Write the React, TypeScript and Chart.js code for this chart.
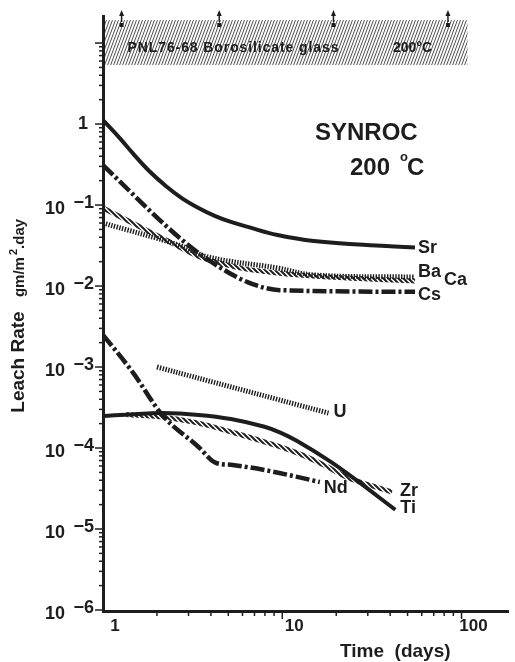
import React, { useEffect, useRef } from 'react';
import { Chart, registerables } from 'chart.js';

Chart.register(...registerables);

const FONT = '"Liberation Sans", Arial, Helvetica, sans-serif';
const INK = '#1d1d1d';

// ---- data (days, gm/m^2.day) ----
const srX = [1, 1.24, 1.46, 1.81, 2.25, 2.75, 3.41, 4.23, 5.17, 6.42, 9.4, 15, 38, 55];
const srY = [1.12, 0.67, 0.44, 0.263, 0.171, 0.122, 0.092, 0.073, 0.0618, 0.0537, 0.0426, 0.036, 0.0311, 0.0298];

const baX = [1, 2.65, 3.87, 9.4, 15, 55];
const baY = [0.06, 0.032, 0.0228, 0.0167, 0.0137, 0.0129];

const caX = [1, 1.46, 2.25, 3.87, 9.4, 55];
const caY = [0.092, 0.06, 0.037, 0.021, 0.0145, 0.0115];

const csX = [1, 2.65, 3.87, 6.4, 9.7, 55];
const csY = [0.31, 0.04, 0.021, 0.0112, 0.0089, 0.0085];

const uX = [2.0, 18.1];
const uY = [1.0e-3, 2.7e-4];

const ndX = [1, 1.46, 2.14, 3.41, 4.23, 5.17, 7.96, 12.1, 16.2];
const ndY = [2.5e-3, 8.7e-4, 2.56e-4, 1.03e-4, 6.6e-5, 6.2e-5, 5.35e-5, 4.4e-5, 3.8e-5];

const tiX = [1, 1.5, 2.14, 3.41, 5.17, 7.96, 9.76, 12.1, 18.4, 24.9, 42.7];
const tiY = [2.48e-4, 2.62e-4, 2.7e-4, 2.56e-4, 2.28e-4, 1.83e-4, 1.55e-4, 1.22e-4, 6.9e-5, 4.27e-5, 1.73e-5];

const zrX = [1.35, 2.14, 3.41, 5.17, 7.96, 12.1, 17.0, 22.7, 30.5, 41];
const zrY = [2.6e-4, 2.41e-4, 2.03e-4, 1.58e-4, 1.19e-4, 8.7e-5, 6.2e-5, 4.4e-5, 3.5e-5, 2.86e-5];

// borosilicate glass reference band and lower-bound markers
const glassBandX = [1.02, 108];
const glassBandY = [5.35, 19.2];
const glassX = [1.27, 4.45, 19.3, 84];
const glassY = [16.7, 16.7, 16.7, 16.7];

const seriesNames = ['Sr', 'Ba', 'Ca', 'Cs', 'U', 'Nd', 'Zr', 'Ti'];
const yTickExponents = [-6, -5, -4, -3, -2, -1];
const xTickLabels = ['1', '10', '100'];
const glassLabel = 'PNL76-68 Borosilicate glass';
const glassTemp = '200°C';
const title1 = 'SYNROC';
const title2 = '200';
const xTitle = 'Time  (days)';
const yTitle = 'Leach Rate';

const pts = (xs: number[], ys: number[]) => xs.map((x, i) => ({ x, y: ys[i] }));

function makePattern(w: number, h: number, draw: (g: CanvasRenderingContext2D) => void) {
  const c = document.createElement('canvas');
  c.width = w;
  c.height = h;
  const g = c.getContext('2d')!;
  draw(g);
  const ctx = document.createElement('canvas').getContext('2d')!;
  return ctx.createPattern(c, 'repeat')!;
}

// label offsets from last point of each series (px)
const labelOffsets: Record<string, [number, number]> = {
  Sr: [3, -1],
  Ba: [3, -7],
  Ca: [29, -3],
  Cs: [3, 2],
  U: [5, -3],
  Nd: [4, 4],
  Zr: [8, -3],
  Ti: [5, -3],
};

export default function App() {
  const ref = useRef<HTMLCanvasElement>(null);

  useEffect(() => {
    const canvas = ref.current!;
    const hatch = makePattern(5, 5, (g) => {
      g.strokeStyle = INK;
      g.lineWidth = 2;
      g.beginPath();
      g.moveTo(-5, 0); g.lineTo(5, 10);
      g.moveTo(0, -5); g.lineTo(10, 5);
      g.moveTo(-5, -5); g.lineTo(10, 10);
      g.stroke();
    });
    const bandPattern = makePattern(3, 8, (g) => {
      g.fillStyle = '#ffffff';
      g.fillRect(0, 0, 3, 8);
      g.strokeStyle = '#444444';
      g.lineWidth = 0.95;
      g.beginPath();
      g.moveTo(-3, 8); g.lineTo(0, 0);
      g.moveTo(0, 8); g.lineTo(3, 0);
      g.moveTo(3, 8); g.lineTo(6, 0);
      g.stroke();
    });

    const smooth = {
      pointRadius: 0,
      fill: false,
      tension: 0.4,
      borderCapStyle: 'butt' as const,
      borderJoinStyle: 'round' as const,
    };
    const kinked = {
      pointRadius: 0,
      fill: false,
      cubicInterpolationMode: 'monotone' as const,
      borderCapStyle: 'butt' as const,
      borderJoinStyle: 'round' as const,
    };

    const decor = {
      id: 'decor',
      beforeDatasetsDraw(chart: any) {
        const { ctx, scales } = chart;
        const x = scales.x, y = scales.y;
        const x0 = x.getPixelForValue(glassBandX[0]);
        const x1 = x.getPixelForValue(glassBandX[1]);
        const y0 = y.getPixelForValue(glassBandY[1]);
        const y1 = y.getPixelForValue(glassBandY[0]);
        ctx.save();
        ctx.fillStyle = bandPattern;
        ctx.fillRect(x0, y0, x1 - x0, y1 - y0);
        ctx.fillStyle = INK;
        ctx.textAlign = 'left';
        ctx.textBaseline = 'alphabetic';
        ctx.font = `bold 14px ${FONT}`;
        (ctx as any).letterSpacing = '0.9px';
        ctx.fillText(glassLabel, x0 + 23, 52);
        (ctx as any).letterSpacing = '0px';
        ctx.fillText(glassTemp, 393, 52);
        ctx.restore();
      },
      afterDatasetsDraw(chart: any) {
        const { ctx, scales, chartArea } = chart;
        const x = scales.x, y = scales.y;
        const { left, right, top, bottom } = chartArea;
        ctx.save();
        ctx.strokeStyle = INK;
        ctx.fillStyle = INK;

        // glass lower-bound arrows
        const gm = chart.getDatasetMeta(8);
        ctx.lineWidth = 1.5;
        gm.data.forEach((p: any) => {
          ctx.beginPath();
          ctx.moveTo(p.x, p.y - 3);
          ctx.lineTo(p.x, p.y - 11);
          ctx.stroke();
          ctx.beginPath();
          ctx.moveTo(p.x, p.y - 15);
          ctx.lineTo(p.x - 2.5, p.y - 9);
          ctx.lineTo(p.x + 2.5, p.y - 9);
          ctx.closePath();
          ctx.fill();
        });

        // axes lines
        ctx.lineWidth = 3;
        ctx.beginPath();
        ctx.moveTo(left + 0.5, top);
        ctx.lineTo(left + 0.5, bottom + 1.5);
        ctx.lineTo(right, bottom + 1.5);
        ctx.stroke();

        // y ticks
        ctx.lineWidth = 1.5;
        for (let e = -6; e <= 1; e++) {
          const py = y.getPixelForValue(Math.pow(10, e));
          ctx.beginPath();
          ctx.moveTo(left - 8, py);
          ctx.lineTo(left, py);
          ctx.stroke();
          if (e < 1) {
            for (let m = 2; m <= 9; m++) {
              const pm = y.getPixelForValue(m * Math.pow(10, e));
              ctx.beginPath();
              ctx.moveTo(left - 4, pm);
              ctx.lineTo(left, pm);
              ctx.stroke();
            }
          }
        }
        // x ticks
        for (let e = 0; e <= 2; e++) {
          const base = Math.pow(10, e);
          if (e > 0) {
            const px = x.getPixelForValue(base);
            ctx.beginPath();
            ctx.moveTo(px, bottom);
            ctx.lineTo(px, bottom + 9);
            ctx.stroke();
          }
          for (let m = 2; m <= 9; m++) {
            const v = m * base;
            if (v > x.max) break;
            const px = x.getPixelForValue(v);
            ctx.beginPath();
            ctx.moveTo(px, bottom);
            ctx.lineTo(px, bottom + 6);
            ctx.stroke();
          }
        }

        // y tick labels
        ctx.textBaseline = 'alphabetic';
        ctx.textAlign = 'right';
        yTickExponents.forEach((e) => {
          const py = y.getPixelForValue(Math.pow(10, e));
          const base = py + 8.5;
          ctx.font = `bold 18px ${FONT}`;
          ctx.fillText('\u2212' + String(-e), 94, base - 6);
          ctx.fillText('10', 65, base);
        });
        ctx.font = `bold 18px ${FONT}`;
        ctx.fillText('1', 88, y.getPixelForValue(1) + 4.5);

        // axis titles
        ctx.textAlign = 'left';
        ctx.font = `bold 19px ${FONT}`;
        ctx.textBaseline = 'middle';
        ctx.fillText(xTitle, 340, 652);

        ctx.save();
        ctx.translate(19, 362);
        ctx.rotate(-Math.PI / 2);
        ctx.textAlign = 'center';
        ctx.fillText(yTitle, 0, 0);
        ctx.restore();

        ctx.save();
        ctx.translate(19, 258);
        ctx.rotate(-Math.PI / 2);
        ctx.textAlign = 'left';
        ctx.textBaseline = 'alphabetic';
        const f1 = `bold 15px ${FONT}`, f2 = `bold 11px ${FONT}`;
        ctx.font = f1;
        const wA = ctx.measureText('gm/m').width;
        const wC = ctx.measureText('.day').width;
        ctx.font = f2;
        const wB = ctx.measureText('2').width;
        const total = wA + 2 + wB + wC;
        let cx = -total / 2;
        ctx.font = f1;
        ctx.fillText('gm/m', cx, 5);
        cx += wA + 2;
        ctx.font = f2;
        ctx.fillText('2', cx, -2);
        cx += wB;
        ctx.font = f1;
        ctx.fillText('.day', cx, 5);
        ctx.restore();

        // series labels
        ctx.font = `bold 18px ${FONT}`;
        ctx.textAlign = 'left';
        ctx.textBaseline = 'alphabetic';
        seriesNames.forEach((name, i) => {
          const meta = chart.getDatasetMeta(i);
          const last = meta.data[meta.data.length - 1];
          const [dx, dy] = labelOffsets[name];
          ctx.fillText(name, last.x + dx, last.y + dy + 6.5);
        });

        // title annotation
        ctx.font = `bold 24px ${FONT}`;
        ctx.fillText(title1, 315, 140);
        ctx.fillText(title2, 350, 175);
        ctx.font = `bold 13px ${FONT}`;
        ctx.fillText('o', 400, 161);
        ctx.font = `bold 24px ${FONT}`;
        ctx.fillText('C', 407, 175);
        ctx.restore();
      },
    };

    const chart = new Chart(canvas, {
      type: 'line',
      data: {
        datasets: [
          { ...smooth, label: 'Sr', data: pts(srX, srY), borderColor: INK, borderWidth: 4 },
          { ...smooth, label: 'Ba', data: pts(baX, baY), borderColor: INK, borderWidth: 5, borderDash: [1.4, 1.4] },
          { ...smooth, label: 'Ca', data: pts(caX, caY), borderColor: hatch, borderWidth: 5 },
          { ...kinked, label: 'Cs', data: pts(csX, csY), borderColor: INK, borderWidth: 4.5, borderDash: [14, 3, 3, 3] },
          { ...smooth, label: 'U', data: pts(uX, uY), borderColor: INK, borderWidth: 5, borderDash: [1.4, 1.4] },
          { ...kinked, label: 'Nd', data: pts(ndX, ndY), borderColor: INK, borderWidth: 4.5, borderDash: [14, 3, 3, 3] },
          { ...smooth, label: 'Zr', data: pts(zrX, zrY), borderColor: hatch, borderWidth: 5 },
          { ...smooth, label: 'Ti', data: pts(tiX, tiY), borderColor: INK, borderWidth: 4 },
          {
            label: 'Borosilicate glass',
            data: pts(glassX, glassY),
            showLine: false,
            pointStyle: 'rect',
            pointRadius: 2.8,
            pointBackgroundColor: INK,
            pointBorderWidth: 0,
            clip: false as any,
          },
        ],
      },
      options: {
        responsive: true,
        maintainAspectRatio: false,
        animation: false,
        events: [],
        layout: { padding: { top: 15, right: 0, left: 0, bottom: 0 } },
        plugins: { legend: { display: false }, tooltip: { enabled: false } },
        scales: {
          x: {
            type: 'logarithmic',
            min: 1,
            max: 184,
            grid: { display: false, drawTicks: false },
            border: { display: false },
            ticks: {
              autoSkip: false,
              maxRotation: 0,
              padding: 6,
              labelOffset: 12,
              color: INK,
              font: { family: FONT, weight: 'bold', size: 17 },
              callback: (v: any) => {
                const l = Math.log10(Number(v));
                const r = Math.round(l);
                return Math.abs(l - r) < 1e-6 && r >= 0 && r < xTickLabels.length ? xTickLabels[r] : '';
              },
            },
            afterFit: (s: any) => { s.height = 52; },
          },
          y: {
            type: 'logarithmic',
            min: 1e-6,
            max: 22.2,
            grid: { display: false, drawTicks: false },
            border: { display: false },
            ticks: { display: false },
            afterFit: (s: any) => { s.width = 103; },
          },
        },
      },
      plugins: [decor],
    } as any);

    return () => chart.destroy();
  }, []);

  return (
    <div style={{ position: 'fixed', left: 0, top: 0, width: 515, height: 662, background: '#fff' }}>
      <canvas ref={ref} />
    </div>
  );
}
